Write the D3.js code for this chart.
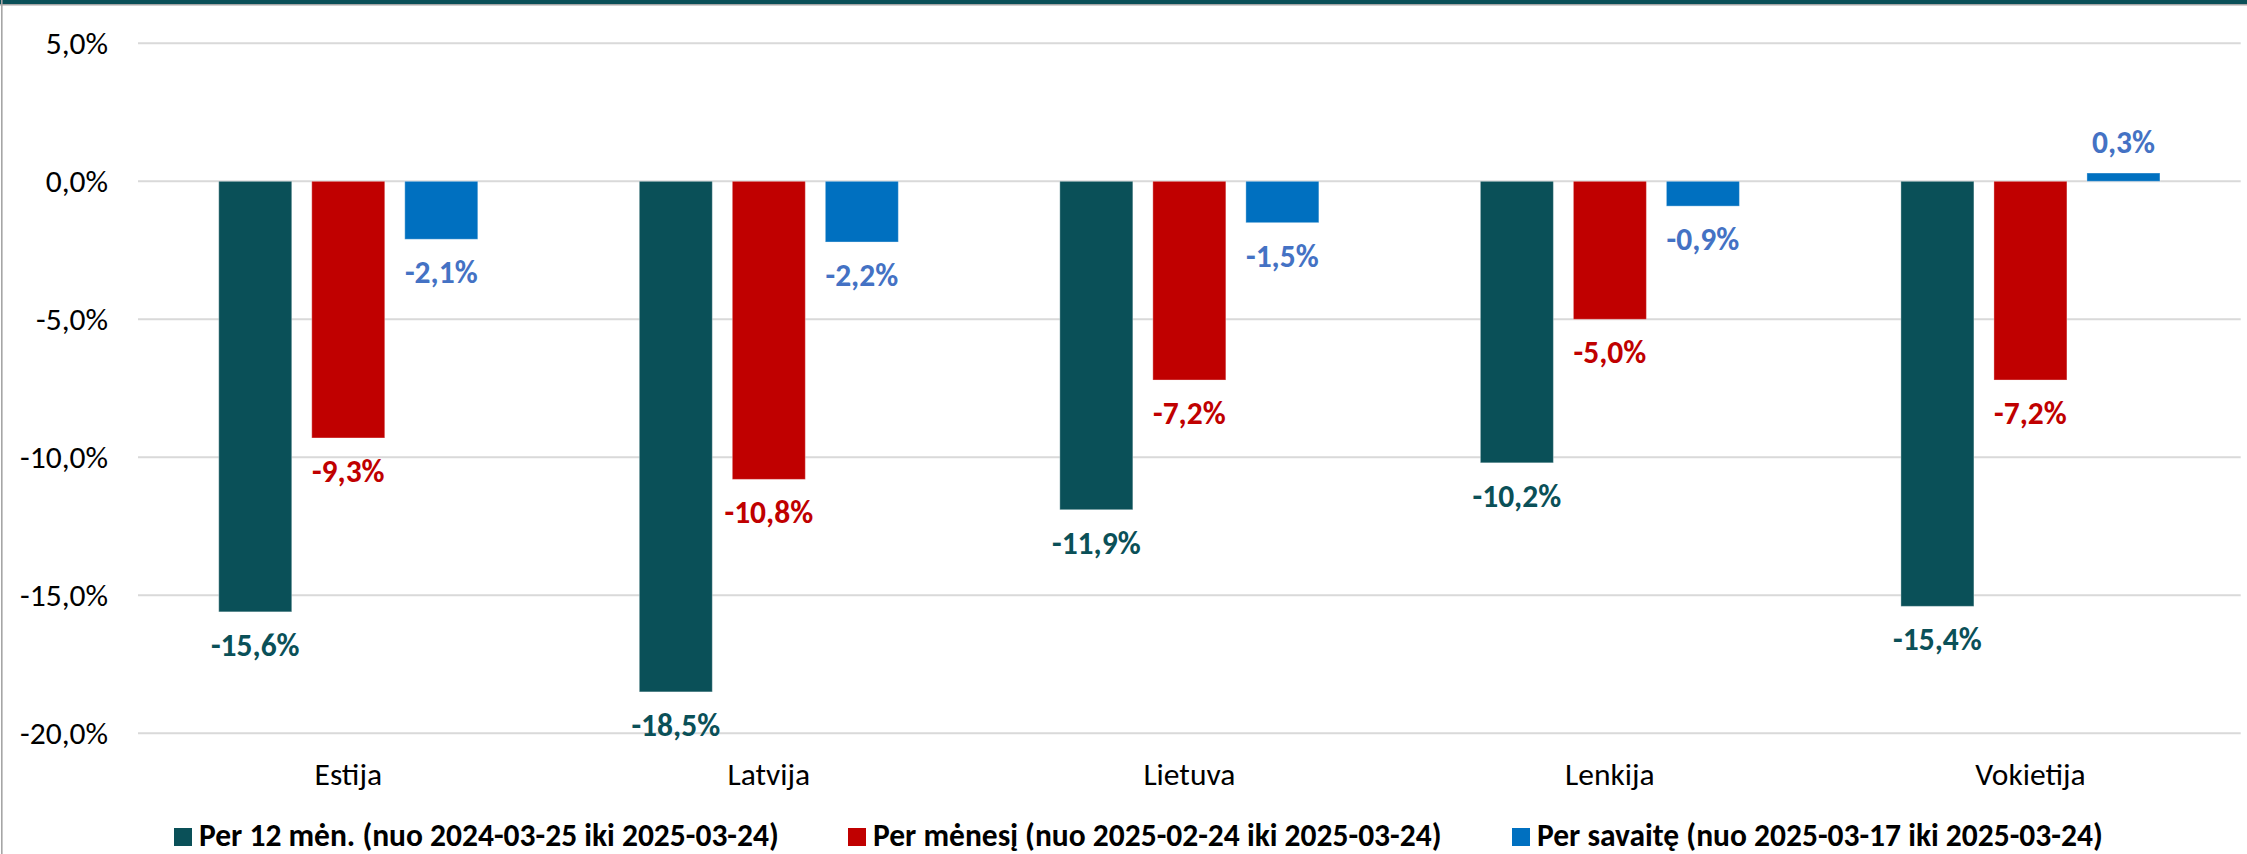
<!DOCTYPE html>
<html>
<head>
<meta charset="utf-8">
<script src="https://cdn.jsdelivr.net/npm/d3@7"></script>
<style>
  html, body { margin: 0; padding: 0; background: #fff; }
  svg { display: block; }
  text { font-family: Carlito, Calibri, Lato, "Open Sans", sans-serif; }
</style>
</head>
<body>
<svg id="chart" width="2247" height="854"></svg>
<script>
// ---- data ----
const categories = ["Estija", "Latvija", "Lietuva", "Lenkija", "Vokietija"];
const seriesNames = [
  "Per 12 mėn. (nuo 2024-03-25 iki 2025-03-24)",
  "Per mėnesį (nuo 2025-02-24 iki 2025-03-24)",
  "Per savaitę (nuo 2025-03-17 iki 2025-03-24)"
];
const year12 = [-15.6, -18.5, -11.9, -10.2, -15.4];
const month1 = [-9.3, -10.8, -7.2, -5.0, -7.2];
const week1  = [-2.1, -2.2, -1.5, -0.9, 0.3];
const yTicks = [5, 0, -5, -10, -15, -20];

// ---- styles ----
const barColors = ["#0A5058", "#C00000", "#0070C0"];
const labelColors = ["#0A5058", "#C00000", "#4472C4"];
const seriesValues = [year12, month1, week1];

const svg = d3.select("#chart");
const W = 2247, H = 854;
const plot = { left: 138, right: 2240.7, top: 43.3, bottom: 733.3 };
const FS = 31.5;

// frame
svg.append("rect").attr("x", 0).attr("y", 0).attr("width", W).attr("height", 4).attr("fill", "#0A5058");
svg.append("rect").attr("x", 0).attr("y", 4).attr("width", W).attr("height", 1.5).attr("fill", "#A6A6A6");
svg.append("rect").attr("x", 1).attr("y", 0).attr("width", 1.6).attr("height", H).attr("fill", "#A6A6A6");

const y = d3.scaleLinear().domain([-20, 5]).range([plot.bottom, plot.top]);
const x0 = d3.scaleBand().domain(categories).range([plot.left, plot.right]).padding(0);
const bw = x0.bandwidth();
const x1 = d3.scaleBand().domain(d3.range(3)).range([bw * 0.192, bw * 0.808]).paddingInner(0.215).paddingOuter(0);

// gridlines
svg.append("g").selectAll("line").data(yTicks).join("line")
  .attr("x1", plot.left).attr("x2", plot.right)
  .attr("y1", d => y(d)).attr("y2", d => y(d))
  .attr("stroke", "#D9D9D9").attr("stroke-width", 2);

// y axis labels
const fmt = v => d3.format(".1f")(v).replace(".", ",").replace("−", "-") + "%";
svg.append("g").selectAll("text").data(yTicks).join("text")
  .attr("x", 108).attr("y", d => y(d) + 11)
  .attr("text-anchor", "end")
  .attr("font-size", FS).attr("fill", "#000")
  .text(d => fmt(d));

// bars
const rows = [];
categories.forEach((c, i) => seriesValues.forEach((vals, s) => rows.push({ c, s, v: vals[i] })));

svg.append("g").selectAll("rect").data(rows).join("rect")
  .attr("x", d => x0(d.c) + x1(d.s))
  .attr("width", x1.bandwidth())
  .attr("y", d => Math.min(y(d.v), y(0)))
  .attr("height", d => Math.abs(y(d.v) - y(0)))
  .attr("fill", d => barColors[d.s])
  .attr("stroke", "#fff").attr("stroke-opacity", 0.35).attr("stroke-width", 1);

// data labels
svg.append("g").selectAll("text").data(rows).join("text")
  .attr("x", d => x0(d.c) + x1(d.s) + x1.bandwidth() / 2)
  .attr("y", d => d.v < 0 ? y(d.v) + 44 : y(d.v) - 20)
  .attr("text-anchor", "middle")
  .attr("font-size", FS).attr("font-weight", "bold")
  .attr("fill", d => labelColors[d.s])
  .text(d => fmt(d.v));

// category labels
svg.append("g").selectAll("text").data(categories).join("text")
  .attr("x", d => x0(d) + bw / 2).attr("y", 785)
  .attr("text-anchor", "middle")
  .attr("font-size", FS).attr("fill", "#000")
  .text(d => d);

// legend
const legendX = [174, 848, 1512];
const lg = svg.append("g").selectAll("g").data(seriesNames).join("g")
  .attr("transform", (d, i) => `translate(${legendX[i]},0)`);
lg.append("rect").attr("x", 0).attr("y", 828).attr("width", 18).attr("height", 18)
  .attr("fill", (d, i) => barColors[i]);
lg.append("text").attr("x", 25).attr("y", 846)
  .attr("font-size", 31.5).attr("font-weight", "bold").attr("fill", "#000")
  .text(d => d);
</script>
</body>
</html>
